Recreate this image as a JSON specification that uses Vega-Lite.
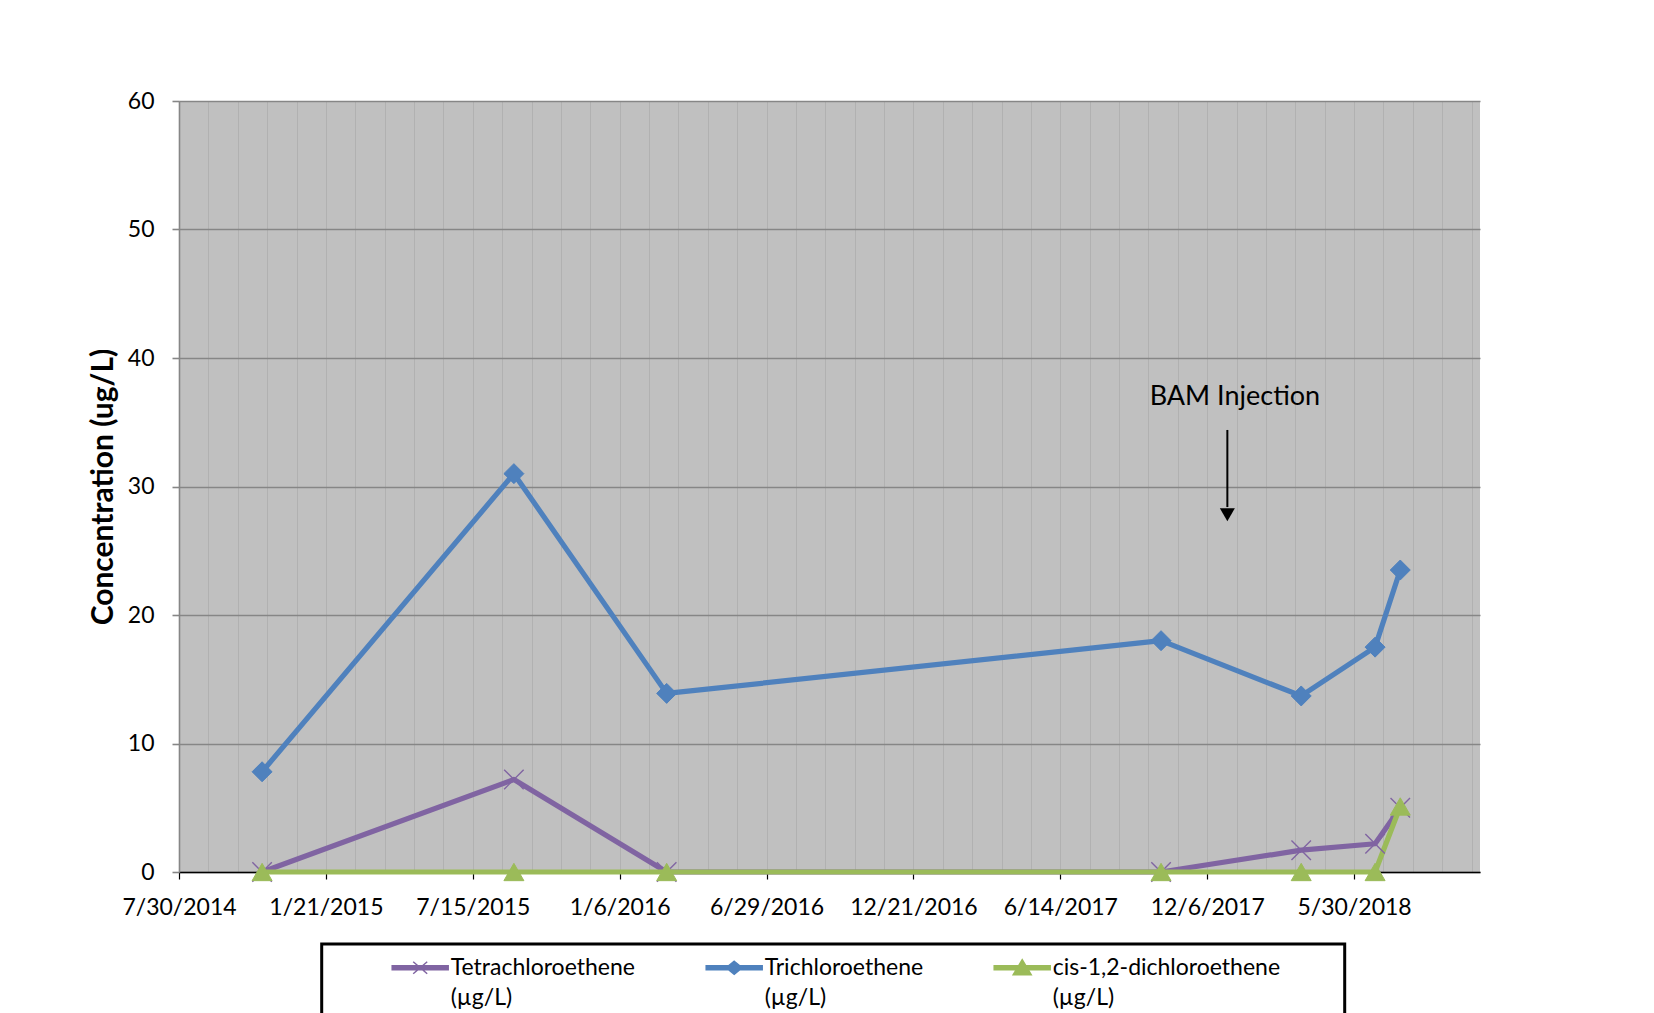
{
  "$schema": "https://vega.github.io/schema/vega-lite/v6.json",
  "autosize": {"type": "none"},
  "padding": {"left": 179, "top": 101, "right": 174, "bottom": 141},
  "width": 1301,
  "height": 771,
  "background": "white",
  "config": {
    "font": "Lato",
    "view": {"fill": "#C0C0C0", "stroke": null}
  },
  "datasets": {
    "samples": [
      {"date": "2014-11-06", "compound": "Tetrachloroethene", "value": 0},
      {"date": "2015-09-02", "compound": "Tetrachloroethene", "value": 7.2},
      {"date": "2016-03-02", "compound": "Tetrachloroethene", "value": 0},
      {"date": "2017-10-12", "compound": "Tetrachloroethene", "value": 0},
      {"date": "2018-03-28", "compound": "Tetrachloroethene", "value": 1.7},
      {"date": "2018-06-24", "compound": "Tetrachloroethene", "value": 2.2},
      {"date": "2018-07-24", "compound": "Tetrachloroethene", "value": 5.0},
      {"date": "2014-11-06", "compound": "Trichloroethene", "value": 7.8},
      {"date": "2015-09-02", "compound": "Trichloroethene", "value": 31.0},
      {"date": "2016-03-02", "compound": "Trichloroethene", "value": 13.9},
      {"date": "2017-10-12", "compound": "Trichloroethene", "value": 18.0},
      {"date": "2018-03-28", "compound": "Trichloroethene", "value": 13.7},
      {"date": "2018-06-24", "compound": "Trichloroethene", "value": 17.5},
      {"date": "2018-07-24", "compound": "Trichloroethene", "value": 23.5},
      {"date": "2014-11-06", "compound": "cis-1,2-dichloroethene", "value": 0},
      {"date": "2015-09-02", "compound": "cis-1,2-dichloroethene", "value": 0},
      {"date": "2016-03-02", "compound": "cis-1,2-dichloroethene", "value": 0},
      {"date": "2017-10-12", "compound": "cis-1,2-dichloroethene", "value": 0},
      {"date": "2018-03-28", "compound": "cis-1,2-dichloroethene", "value": 0},
      {"date": "2018-06-24", "compound": "cis-1,2-dichloroethene", "value": 0},
      {"date": "2018-07-24", "compound": "cis-1,2-dichloroethene", "value": 5.1}
    ],
    "arrow": [{"date": "2017-12-30", "value": 34.4, "end": 28.4}],
    "arrowhead": [{"date": "2017-12-30", "value": 27.8}],
    "note": [{"date": "2018-01-08", "value": 37.0, "label": "BAM Injection"}]
  },
  "encoding": {
    "x": {
      "field": "date",
      "type": "temporal",
      "scale": {"type": "utc", "domain": [1406678400000, 1540598400000], "nice": false},
      "axis": {
        "title": null,
        "values": [1406678400000, 1409702400000, 1412726400000, 1415750400000, 1418774400000, 1421798400000, 1424822400000, 1427846400000, 1430870400000, 1433894400000, 1436918400000, 1439942400000, 1442966400000, 1445990400000, 1449014400000, 1452038400000, 1455062400000, 1458086400000, 1461110400000, 1464134400000, 1467158400000, 1470182400000, 1473206400000, 1476230400000, 1479254400000, 1482278400000, 1485302400000, 1488326400000, 1491350400000, 1494374400000, 1497398400000, 1500422400000, 1503446400000, 1506470400000, 1509494400000, 1512518400000, 1515542400000, 1518566400000, 1521590400000, 1524614400000, 1527638400000, 1530662400000, 1533686400000, 1536710400000, 1539734400000],
        "labelExpr": "(datum.value - 1406678400000) % 15120000000 === 0 ? utcFormat(datum.value, '%-m/%-d/%Y') : ''",
        "labelOverlap": false,
        "labelFlush": false,
        "labelAngle": 0,
        "labelFontSize": 23,
        "labelColor": "black",
        "labelPadding": 17,
        "grid": true,
        "gridColor": "#B1B1B1",
        "gridWidth": 1,
        "domainColor": "black",
        "domainWidth": 1.5,
        "tickColor": "black",
        "tickWidth": 1.2,
        "tickSize": 7,
        "tickOpacity": {"condition": {"test": "(datum.value - 1406678400000) % 15120000000 === 0", "value": 1}, "value": 0}
      }
    },
    "y": {
      "field": "value",
      "type": "quantitative",
      "scale": {"domain": [0, 60], "nice": false},
      "axis": {
        "title": "Concentration (ug/L)",
        "titleFontSize": 30,
        "titleFontWeight": "bold",
        "titleColor": "black",
        "titlePadding": 9,
        "values": [0, 10, 20, 30, 40, 50, 60],
        "labelFontSize": 23,
        "labelColor": "black",
        "labelPadding": 18,
        "grid": true,
        "gridColor": "#868686",
        "gridWidth": 1.6,
        "domainColor": "#868686",
        "domainWidth": 1.6,
        "tickColor": "#868686",
        "tickWidth": 1.6,
        "tickSize": 7
      }
    }
  },
  "layer": [
    {
      "data": {"name": "samples"},
      "mark": {"type": "line", "strokeWidth": 5.2, "strokeJoin": "round", "strokeCap": "round"},
      "encoding": {
        "color": {
          "field": "compound",
          "type": "nominal",
          "scale": {
            "domain": ["Tetrachloroethene", "Trichloroethene", "cis-1,2-dichloroethene"],
            "range": ["#8064A2", "#4F81BD", "#9BBB59"]
          },
          "legend": {
            "orient": "none",
            "legendX": 142.7,
            "legendY": 843,
            "direction": "horizontal",
            "columns": 3,
            "title": null,
            "padding": 12,
            "columnPadding": 12,
            "symbolSize": 400,
            "symbolOffset": 75,
            "labelOffset": 19,
            "symbolStrokeWidth": 1.5,
            "labelFontSize": 23,
            "labelColor": "black",
            "labelLimit": 0,
            "labelBaseline": "middle",
            "labelExpr": "datum.label === 'cis-1,2-dichloroethene' ? [datum.label + '\u00a0\u00a0\u00a0\u00a0\u00a0\u00a0\u2800', '(µg/L)'] : [datum.label, '(µg/L)']",
            "fillColor": "white",
            "strokeColor": "black",
            "encode": {
              "legend": {"update": {"strokeWidth": {"value": 3}}},
              "symbols": {
                "update": {
                  "shape": {"signal": "datum.value === 'Tetrachloroethene' ? 'M-2.8,-0.2L2.8,-0.2L2.8,0.2L-2.8,0.2Z M-0.7,-0.6L0.7,0.6 M-0.7,0.6L0.7,-0.6' : datum.value === 'Trichloroethene' ? 'M-2.8,-0.2L2.8,-0.2L2.8,0.2L-2.8,0.2Z M0,-0.65L0.8,0L0,0.65L-0.8,0Z' : 'M-2.8,-0.2L2.8,-0.2L2.8,0.2L-2.8,0.2Z M0,-0.8L0.9,0.7L-0.9,0.7Z'"},
                  "fill": {"scale": "color", "field": "value"},
                  "stroke": {"scale": "color", "field": "value"},
                  "strokeWidth": {"value": 1.5},
                  "opacity": {"value": 1}
                }
              },
              "labels": {"update": {"lineHeight": {"value": 30}}}
            }
          }
        }
      }
    },
    {
      "data": {"name": "samples"},
      "transform": [{"filter": "datum.compound === 'Tetrachloroethene'"}],
      "mark": {"type": "point", "shape": "M-1,-1L1,1M-1,1L1,-1", "filled": false, "stroke": "#8064A2", "strokeWidth": 1.4, "size": 380, "opacity": 1}
    },
    {
      "data": {"name": "samples"},
      "transform": [{"filter": "datum.compound === 'Trichloroethene'"}],
      "mark": {"type": "point", "shape": "diamond", "filled": true, "fill": "#4F81BD", "stroke": "#4F81BD", "strokeWidth": 1, "size": 400, "opacity": 1}
    },
    {
      "data": {"name": "samples"},
      "transform": [{"filter": "datum.compound === 'cis-1,2-dichloroethene'"}],
      "mark": {"type": "point", "shape": "triangle-up", "filled": true, "fill": "#9BBB59", "stroke": "#9BBB59", "strokeWidth": 1, "size": 400, "opacity": 1}
    },
    {
      "data": {"name": "arrow"},
      "mark": {"type": "rule", "color": "black", "strokeWidth": 2},
      "encoding": {"y2": {"field": "end"}}
    },
    {
      "data": {"name": "arrowhead"},
      "mark": {"type": "point", "shape": "triangle-down", "filled": true, "color": "black", "size": 225, "opacity": 1}
    },
    {
      "data": {"name": "note"},
      "mark": {"type": "text", "fontSize": 27, "color": "black", "align": "center", "baseline": "middle"},
      "encoding": {"text": {"field": "label"}}
    }
  ]
}
